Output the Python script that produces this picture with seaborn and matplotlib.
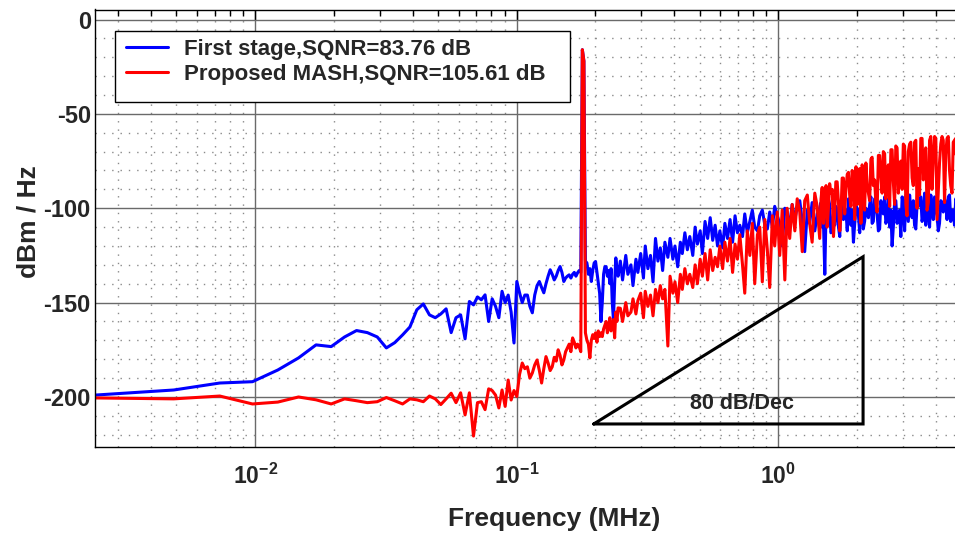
import numpy as np
import pandas as pd
import matplotlib
matplotlib.use("Agg")
import matplotlib.pyplot as plt
import seaborn as sns
from matplotlib.ticker import FixedLocator, FixedFormatter, LogLocator, NullFormatter, MultipleLocator
from matplotlib.patches import Rectangle

# ---------------- data ----------------
DF_MHZ = 10.0 / 4096          # FFT bin width in MHz

BIN_LF = list(range(1, 101))  # individual FFT bins at low frequency
BLUE_LF = [
    -199.0, -196.3, -192.6, -191.9, -185.7, -179.3, -172.4, -173.3, -168.2, -164.8,
    -165.9, -168.2, -174.0, -171.2, -167.1, -162.9, -153.8, -150.7, -156.5, -158.0,
    -156.0, -153.3, -165.9, -158.0, -156.5, -169.2, -149.4, -151.2, -147.0, -148.5,
    -145.9, -160.0, -148.0, -152.0, -158.0, -144.0, -150.0, -146.0, -155.0, -171.4,
    -138.8, -144.8, -150.0, -146.0, -146.0, -152.0, -155.4, -146.0, -141.0, -138.8,
    -142.0, -144.8, -140.0, -136.0, -132.6, -135.0, -138.0, -136.0, -133.0, -130.9,
    -134.0, -138.8, -137.0, -136.0, -135.3, -137.0, -135.0, -134.0, -136.0, -134.2,
    -133.0, -134.0, -16.0, -22.0, -128.0, -129.0, -135.0, -132.0, -138.8, -133.0,
    -129.0, -128.2, -134.0, -140.0, -145.0, -160.0, -150.0, -135.0, -131.0, -130.9,
    -136.0, -133.0, -140.0, -132.0, -150.0, -159.2, -140.0, -126.3, -132.0, -136.0,
]
RED_LF = [
    -200.5, -201.0, -199.5, -203.7, -202.7, -200.0, -201.5, -203.7, -201.0, -202.0,
    -203.0, -202.5, -200.3, -202.0, -203.7, -201.0, -201.5, -202.5, -199.5, -201.0,
    -204.0, -201.0, -198.0, -203.0, -197.8, -209.5, -197.8, -220.7, -203.0, -202.5,
    -206.7, -195.7, -196.6, -199.0, -205.8, -196.3, -205.0, -191.0, -201.6, -196.6,
    -199.7, -188.0, -182.0, -185.0, -184.0, -190.0, -187.3, -183.0, -180.4, -186.0,
    -192.6, -185.0, -178.6, -182.0, -186.0, -184.0, -179.0, -181.0, -175.0, -178.0,
    -183.0, -180.4, -176.0, -174.0, -172.0, -176.0, -168.7, -171.0, -174.0, -172.0,
    -173.3, -176.0, -16.0, -22.0, -166.0, -170.0, -172.0, -179.3, -170.0, -167.0,
    -169.0, -166.0, -171.0, -165.0, -168.0, -166.0, -168.0, -164.0, -162.0, -160.0,
    -166.0, -163.0, -158.0, -165.0, -162.0, -159.0, -168.7, -155.0, -160.0, -152.8,
]

BIN_HF = [
    102, 104, 107, 109, 112, 114, 117, 119, 122, 125,
    127, 130, 133, 136, 139, 142, 145, 148, 151, 155,
    158, 162, 165, 169, 173, 176, 180, 184, 188, 193,
    197, 201, 206, 210, 215, 220, 225, 230, 235, 240,
    245, 251, 256, 262, 268, 274, 280, 286, 292, 299,
    305, 312, 319, 326, 333, 341, 348, 356, 364, 372,
    380, 389, 397, 406, 415, 424, 434, 443, 453, 463,
    474, 484, 495, 506, 517, 529, 540, 552, 565, 577,
    590, 603, 617, 630, 644, 659, 673, 688, 704, 719,
    735, 752, 768, 785, 803, 821, 839, 857, 876, 896,
    916, 936, 957, 978, 1000, 1022, 1045, 1068, 1092, 1116,
    1141, 1166, 1192, 1219, 1246, 1273, 1302, 1331, 1360, 1390,
    1421, 1453, 1485, 1518, 1552, 1586, 1622, 1658, 1694, 1732,
    1771, 1810, 1850, 1891, 1933, 1976, 2020,
]
BLUE_HF = [
    -128, -138, -125, -135, -130, -141, -127, -134, -124, -137,
    -120, -132, -125, -139, -116, -128, -121, -133, -118, -126,
    -116, -127, -120, -131, -118, -124, -113, -122, -115, -125,
    -110, -119, -112, -124, -107, -116, -105, -117, -109, -120,
    -112, -121, -108, -116, -106, -118, -104, -113, -109, -115,
    -103, -113, -107, -101, -110, -112, -104, -101, -109, -111,
    -102, -110, -99, -104, -108, -120, -100, -103, -109, -98,
    -106, -99, -96, -107, -123, -101, -108, -97, -112, -103,
    -100, -110, -135, -104, -98, -112, -109, -102, -115, -99,
    -104, -112, -97, -101, -108, -100, -113, -96, -107, -102,
    -98, -108, -95, -103, -111, -101, -94, -106, -110, -120,
    -97, -108, -101, -94, -112, -100, -93, -105, -109, -98,
    -95, -107, -92, -100, -110, -99, -94, -104, -108, -97,
    -95, -106, -93, -101, -109, -96, -95,
]
RED_HF = [
    -153, -160, -150, -157, -155, -148, -156, -149, -145, -158,
    -144, -152, -146, -157, -143, -150, -141, -148, -143, -173,
    -136, -145, -139, -150, -135, -143, -132, -140, -135, -142,
    -130, -140, -127, -136, -124, -138, -122, -133, -126, -131,
    -120, -132, -118, -128, -116, -134, -119, -127, -114, -130,
    -145, -112, -125, -108, -140, -114, -110, -139, -106, -122,
    -142, -104, -120, -102, -125, -101, -138, -100, -116, -98,
    -112, -95, -102, -123, -96, -93, -108, -118, -92, -99,
    -116, -89, -97, -110, -87, -90, -104, -86, -112, -84,
    -103, -82, -93, -80, -106, -98, -79, -77, -101, -88,
    -96, -73, -85, -102, -72, -92, -71, -80, -99, -69,
    -98, -68, -78, -90, -67, -104, -66, -84, -65, -100,
    -93, -63, -72, -101, -64, -90, -62, -106, -76, -62,
    -97, -63, -80, -92, -64, -103, -63,
]

# extra bins in the densest part of the spectrum (above ~0.7 MHz)
BIN_TOP = [
    597, 610, 624, 637, 651, 666, 680, 696, 711, 727,
    743, 760, 776, 794, 812, 830, 848, 866, 886, 906,
    926, 946, 967, 989, 1011, 1033, 1056, 1080, 1104, 1128,
    1153, 1179, 1205, 1232, 1260, 1287, 1316, 1345, 1375, 1405,
    1437, 1469, 1501, 1535, 1569, 1604, 1640, 1676, 1713, 1751,
    1790, 1830, 1870, 1912, 1954, 1998,
]
BLUE_TOP = [
    -97, -108, -101, -95, -113, -103, -99, -110, -96, -106,
    -101, -95, -109, -118, -99, -104, -96, -111, -100, -105,
    -94, -107, -99, -112, -96, -103, -108, -95, -101, -110,
    -96, -104, -115, -98, -93, -107, -101, -96, -111, -99,
    -94, -103, -109, -97, -93, -106, -100, -112, -96, -102,
    -98, -94, -107, -101, -95, -104,
]
RED_TOP = [
    -95, -108, -88, -100, -92, -115, -86, -97, -104, -84,
    -90, -81, -99, -85, -78, -94, -108, -80, -76, -92,
    -74, -88, -97, -72, -83, -70, -95, -77, -69, -86,
    -67, -92, -75, -66, -98, -70, -65, -88, -64, -79,
    -63, -85, -68, -97, -62, -74, -63, -91, -66, -64,
    -71, -62, -88, -65, -63, -79,
]

SERIES = ["First stage,SQNR=83.76 dB", "Proposed MASH,SQNR=105.61 dB"]
COLORS = ["#0000ff", "#ff0000"]

YTICKS = [0, -50, -100, -150, -200]
YTICK_LABELS = ["0", "-50", "-100", "-150", "-200"]
XTICKS = [1e-2, 1e-1, 1e0]
XTICK_LABELS = [r"$\mathrm{10^{-2}}$", r"$\mathrm{10^{-1}}$", r"$\mathrm{10^{0}}$"]

# 80 dB/decade slope annotation (triangle in data coordinates)
TRI_F = [0.197, 2.11, 2.11, 0.197]
TRI_DB = [-214.3, -214.3, -125.7, -214.3]
SLOPE_LABEL = "80 dB/Dec"
SLOPE_F, SLOPE_DB = 0.729, -203.2

assert len(BLUE_LF) == len(RED_LF) == len(BIN_LF)
assert len(BLUE_HF) == len(RED_HF) == len(BIN_HF)
assert len(BLUE_TOP) == len(RED_TOP) == len(BIN_TOP)

# ---------------- style ----------------
sns.set_style("white")
plt.rcParams["font.family"] = ["Liberation Sans", "DejaVu Sans"]
plt.rcParams["font.weight"] = "bold"
plt.rcParams["axes.unicode_minus"] = False
plt.rcParams["mathtext.fontset"] = "custom"
plt.rcParams["mathtext.rm"] = "Liberation Sans:bold"
plt.rcParams["mathtext.default"] = "rm"

bins = np.array(BIN_LF + BIN_HF + BIN_TOP)
df = pd.concat([
    pd.DataFrame({"f": bins * DF_MHZ, "db": BLUE_LF + BLUE_HF + BLUE_TOP, "series": SERIES[0]}),
    pd.DataFrame({"f": bins * DF_MHZ, "db": RED_LF + RED_HF + RED_TOP, "series": SERIES[1]}),
], ignore_index=True)

fig = plt.figure(figsize=(9.55, 5.37), dpi=100)
ax = fig.add_axes([95 / 955, 90 / 537, 860 / 955, 437.5 / 537])
ax.set_xscale("log")

sns.lineplot(data=df, x="f", y="db", hue="series", hue_order=SERIES,
             palette=COLORS, linewidth=2.2, sort=True, estimator=None,
             ax=ax, legend=True)

ax.plot(TRI_F, TRI_DB, color="black", linewidth=2.2, solid_joinstyle="miter")
ax.text(SLOPE_F, SLOPE_DB, SLOPE_LABEL, ha="center", va="center",
        fontsize=15.5, fontweight="bold")

ax.set_xlim(DF_MHZ, 4.74)
ax.set_ylim(-226.5, 5.3)

ax.xaxis.set_major_locator(FixedLocator(XTICKS))
ax.xaxis.set_major_formatter(FixedFormatter(XTICK_LABELS))
ax.xaxis.set_minor_locator(LogLocator(base=10, subs=np.arange(2, 10)))
ax.xaxis.set_minor_formatter(NullFormatter())
ax.yaxis.set_major_locator(FixedLocator(YTICKS))
ax.yaxis.set_major_formatter(FixedFormatter(YTICK_LABELS))
ax.yaxis.set_minor_locator(MultipleLocator(10))

ax.set_axisbelow(True)
ax.grid(which="major", color="#6a6a6a", linewidth=1.0, linestyle="-")
ax.grid(which="minor", color="#8a8a8a", linewidth=1.0, linestyle=(0, (1, 5)))

ax.tick_params(which="both", direction="in", top=True, right=False, color="black", width=1.0)
ax.tick_params(which="major", length=7)
ax.tick_params(which="minor", length=4)
ax.tick_params(axis="y", which="major", labelsize=17, pad=3)
ax.tick_params(axis="x", which="major", labelsize=16.5, pad=12)
for lab in ax.get_xticklabels() + ax.get_yticklabels():
    lab.set_fontweight("bold")

for side in ["left", "bottom", "top"]:
    ax.spines[side].set_color("black")
    ax.spines[side].set_linewidth(1.0)
ax.spines["right"].set_visible(False)

ax.set_xlabel("Frequency (MHz)", fontsize=19, fontweight="bold")
ax.set_ylabel("dBm / Hz", fontsize=19, fontweight="bold")
ax.xaxis.set_label_coords(0.534, -0.137)
ax.yaxis.set_label_coords(-0.063, 0.514)

# legend: MATLAB-like box with extra right padding
box = Rectangle((20 / 860, (447 - 102) / 437.5), 455 / 860, 71 / 437.5,
                transform=ax.transAxes, facecolor="white", edgecolor="black",
                linewidth=1.0, zorder=4.5)
ax.add_patch(box)
handles, labels = ax.get_legend_handles_labels()
leg = ax.legend(handles, labels, loc="upper left",
                bbox_to_anchor=(31 / 860, (447 - 38.5) / 437.5),
                frameon=False, borderpad=0, borderaxespad=0,
                handlelength=1.9, handletextpad=0.72, labelspacing=0.21,
                prop={"size": 16, "weight": "bold"})
leg.set_zorder(5)
for lh in leg.get_lines():
    lh.set_linewidth(2.2)

fig.savefig("out.png", dpi=100)
